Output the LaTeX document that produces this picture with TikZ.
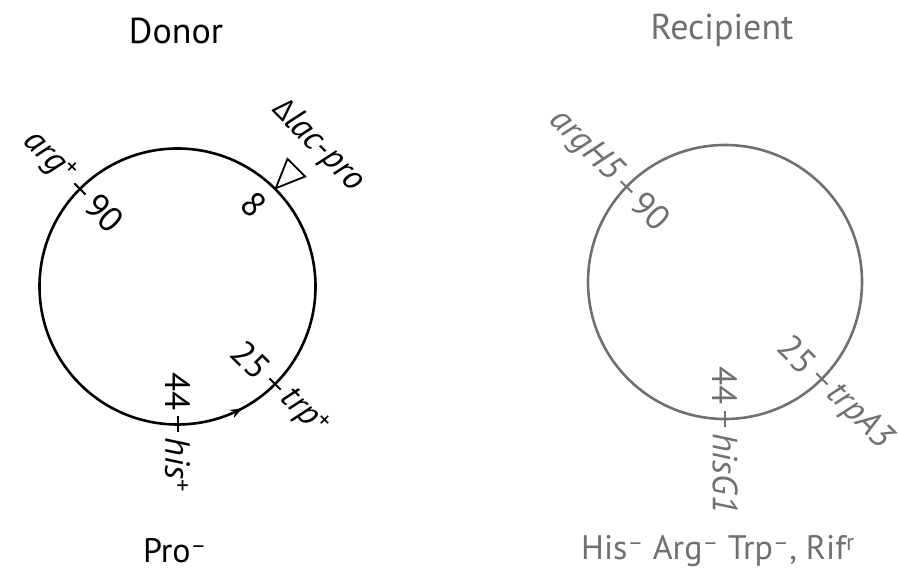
\documentclass[tikz,border=0pt]{standalone}
\usepackage{fontspec}
\setmainfont{PT Sans}
\newfontfamily\grk{Open Sans}
\usetikzlibrary{arrows.meta}
\definecolor{recgray}{HTML}{707070}
\tikzset{
  lab/.style={inner sep=0pt, font=\fontsize{35}{40}\selectfont},
  title/.style={inner sep=0pt, font=\fontsize{36}{42}\selectfont},
  geno/.style={inner sep=0pt, font=\fontsize{34}{40}\selectfont},
  dnaring/.style={line width=2.6pt},
  tick/.style={line width=2pt}
}
\begin{document}
\begin{tikzpicture}[x=1pt,y=1pt]
\useasboundingbox (0,0) rectangle (899,583);
% centres
\coordinate (D) at (177.5,296.5);
\coordinate (R) at (725,301);
% ---------------- Donor ----------------
\node[title] (dtitle) at (176,552) {Donor};
\node[geno] (dgeno) at (175,32) {Pro\textsuperscript{–}};
\draw[dnaring] (D) circle (138);
% ticks
\draw[tick] ([shift={(135:130)}]D) -- ([shift={(135:146)}]D);
\draw[tick] ([shift={(-45:130)}]D) -- ([shift={(-45:146)}]D);
\draw[tick] ([shift={(-90:130)}]D) -- ([shift={(-90:146)}]D);
% arrow on ring
\draw[line width=1.2pt, -{Stealth[length=12pt,width=9pt]}] ([shift={(-70:138)}]D) arc (-70:-62:138);
% deletion triangle
\begin{scope}[shift={(D)}, rotate=45]
  \draw[line width=1.8pt, line join=miter] (139,0) -- (168,12.5) -- (168,-12.5) -- cycle;
\end{scope}
\node[lab, rotate=-45] (dlac) at ([shift={(45:199)}]D) {{\grk\fontsize{30}{36}\selectfont Δ}\textit{lac-pro}};
\node[lab, rotate=-45] (d8) at ([shift={(47:112)}]D) {8};
% labels
\node[lab, rotate=-45, anchor=east] (darg) at ([shift={(135:152)}]D) {\textit{arg}\textsuperscript{+}};
\node[lab, rotate=-45, anchor=west] (d90) at ([shift={(135:123)}]D) {90};
\node[lab, rotate=-45, anchor=east] (d25) at ([shift={(-45:123)}]D) {25};
\node[lab, rotate=-45, anchor=west] (dtrp) at ([shift={(-45:152)}]D) {\textit{trp}\textsuperscript{+}};
\node[lab, rotate=-90, anchor=east] (d44) at ([shift={(-90:124)}]D) {44};
\node[lab, rotate=-90, anchor=west] (dhis) at ([shift={(-90:151)}]D) {\textit{his}\textsuperscript{+}};
% ---------------- Recipient ----------------
\begin{scope}[color=recgray, text=recgray]
\node[title] (rtitle) at (722,553) {Recipient};
\node[geno] (rgeno) at (718,32) {His\textsuperscript{–} Arg\textsuperscript{–} Trp\textsuperscript{–}, Rif\textsuperscript{r}};
\draw[dnaring] (R) circle (137);
\draw[tick] ([shift={(136:129)}]R) -- ([shift={(136:145)}]R);
\draw[tick] ([shift={(-45:129)}]R) -- ([shift={(-45:145)}]R);
\draw[tick] ([shift={(-90:129)}]R) -- ([shift={(-90:145)}]R);
\node[lab, rotate=-45, anchor=east] (rarg) at ([shift={(136:151)}]R) {\textit{argH5}};
\node[lab, rotate=-45, anchor=west] (r90) at ([shift={(136:122)}]R) {90};
\node[lab, rotate=-45, anchor=east] (r25) at ([shift={(-45:122)}]R) {25};
\node[lab, rotate=-45, anchor=west] (rtrp) at ([shift={(-45:151)}]R) {\textit{trpA3}};
\node[lab, rotate=-90, anchor=east] (r44) at ([shift={(-90:123)}]R) {44};
\node[lab, rotate=-90, anchor=west] (rhis) at ([shift={(-90:151)}]R) {\textit{hisG1}};
\end{scope}
\end{tikzpicture}
\end{document}
